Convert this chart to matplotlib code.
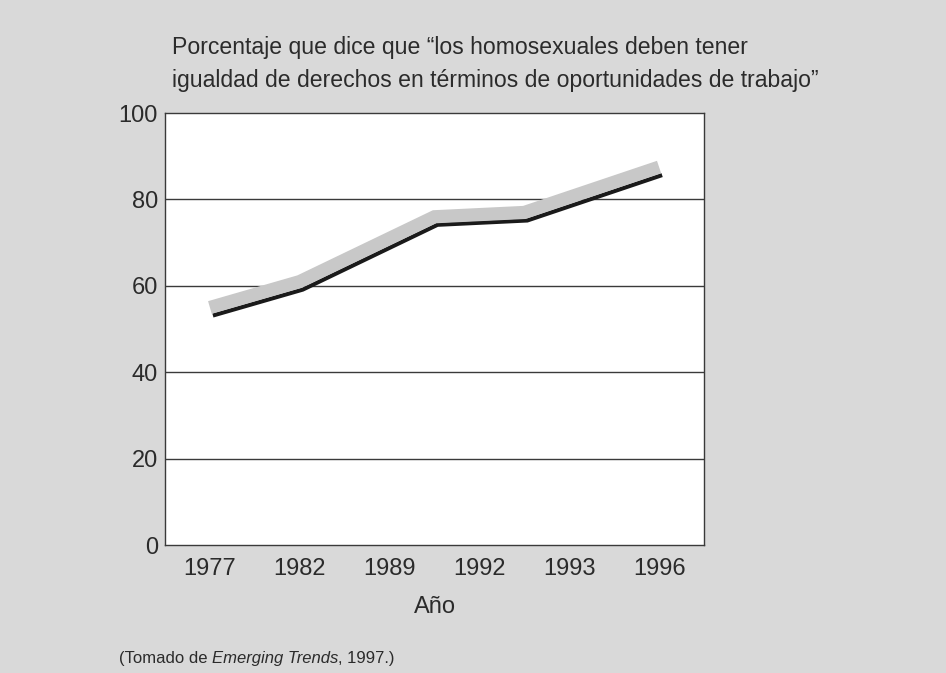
import matplotlib
matplotlib.use("Agg")
import matplotlib.pyplot as plt
from matplotlib.transforms import offset_copy

# Data
years = ["1977", "1982", "1989", "1992", "1993", "1996"]
# the line bends sit at these category positions (as drawn in the original)
line_pos = [0, 1, 2.5, 3.5, 5]
line_vals = [55, 61, 76, 77, 87.5]
y_ticks = [0, 20, 40, 60, 80, 100]

title = ("Porcentaje que dice que \u201clos homosexuales deben tener\n"
         "igualdad de derechos en t\u00e9rminos de oportunidades de trabajo\u201d")

BG = "#d9d9d9"
TXT = "#2b2b2b"
FONT = ["Liberation Sans", "DejaVu Sans"]

plt.rcParams["font.family"] = FONT

fig = plt.figure(figsize=(9.46, 6.73), dpi=100, facecolor=BG)
ax = fig.add_axes([0.1744, 0.19, 0.5698, 0.642])
ax.set_facecolor("white")

# shadow line (black, offset down/right), then the grey band on top
shadow = offset_copy(ax.transData, fig=fig, x=3, y=-8, units="dots")
ax.plot(line_pos, line_vals, color="#1a1a1a", lw=3, solid_capstyle="butt",
        solid_joinstyle="miter", transform=shadow, zorder=3)
ax.plot(line_pos, line_vals, color="#c8c8c8", lw=9.5, solid_capstyle="butt",
        solid_joinstyle="miter", zorder=4)

ax.set_xlim(-0.5, 5.5)
ax.set_ylim(0, 100)
ax.set_xticks(range(len(years)))
ax.set_xticklabels(years)
ax.set_yticks(y_ticks)
ax.tick_params(length=0, labelsize=17, labelcolor=TXT)
ax.tick_params(axis="x", pad=9)
ax.tick_params(axis="y", pad=5)
for y in y_ticks[1:-1]:
    ax.axhline(y, color="#3a3a3a", lw=1.0, zorder=2)
for s in ax.spines.values():
    s.set_color("#3a3a3a")
    s.set_linewidth(1.0)

ax.set_xlabel("A\u00f1o", fontsize=17, color=TXT, labelpad=12)

fig.text(172 / 946, 1 - 36 / 673, title, fontsize=16.6, color=TXT,
         ha="left", va="top", linespacing=1.55)

# source note with the italic title
t1 = fig.text(119 / 946, 1 - 666 / 673, "(Tomado de ", fontsize=12, color=TXT,
              ha="left", va="bottom")
t2 = ax.annotate("Emerging Trends", xy=(1, 0), xycoords=t1, fontsize=12,
                 color=TXT, style="italic", ha="left", va="bottom")
ax.annotate(", 1997.)", xy=(1, 0), xycoords=t2, fontsize=12, color=TXT,
            ha="left", va="bottom")

fig.savefig("out.png", dpi=100, facecolor=BG)
